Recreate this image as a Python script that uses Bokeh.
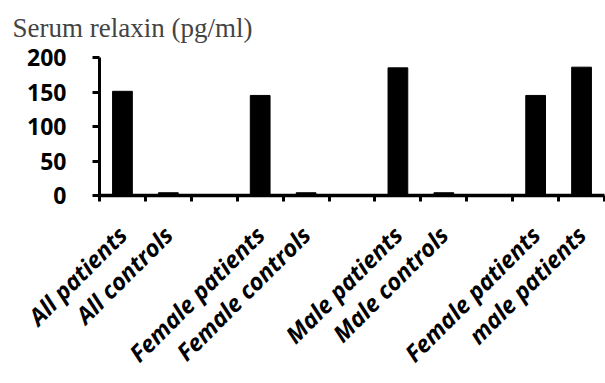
import math
from bokeh.plotting import figure
from bokeh.models import FixedTicker, LinearAxis, Range1d
from bokeh.embed import file_html
from bokeh.resources import INLINE

labels = ["All patients", "All controls", "", "Female patients", "Female controls", "",
          "Male patients", "Male controls", "", "Female patients", "male patients"]
values = [151, 4, 0, 145, 4, 0, 185, 4, 0, 145, 186]
yticks = [0, 50, 100, 150, 200]
title_text = "Serum relaxin  (pg/ml)"

n = len(labels)
centers = [i + 0.5 for i in range(n)]
bx = [centers[i] for i in range(n) if labels[i]]
bt = [values[i] for i in range(n) if labels[i]]

p = figure(width=605, height=383, x_range=Range1d(0, n), y_range=Range1d(0, 200),
           output_backend="svg", toolbar_location=None, x_axis_location=None,
           min_border_left=99, min_border_right=1, min_border_top=57, min_border_bottom=188)
p.outline_line_color = None
p.grid.visible = False
p.background_fill_color = "white"
p.border_fill_color = "white"

p.vbar(x=bx, top=bt, width=0.43, color="black")

xa = LinearAxis(ticker=FixedTicker(ticks=bx, minor_ticks=list(range(n + 1))),
                major_label_overrides={centers[i]: labels[i] for i in range(n) if labels[i]},
                major_label_orientation=math.pi / 4,
                axis_line_color="black", axis_line_width=3.5,
                major_tick_line_color=None,
                minor_tick_line_color="black", minor_tick_line_width=3,
                minor_tick_out=6, minor_tick_in=0,
                major_label_standoff=29,
                major_label_text_font="Open Sans", major_label_text_font_style="bold italic",
                major_label_text_font_size="23.5px", major_label_text_color="black")
p.add_layout(xa, "below")

ya = p.yaxis[0]
ya.ticker = FixedTicker(ticks=yticks)
ya.axis_line_width = 3
ya.axis_line_color = "black"
ya.major_tick_line_width = 3
ya.major_tick_out = 7
ya.major_tick_in = 0
ya.minor_tick_line_color = None
ya.major_label_standoff = 26
ya.major_label_text_font = "Open Sans"
ya.major_label_text_font_style = "bold"
ya.major_label_text_font_size = "23px"
ya.major_label_text_color = "black"

p.title.text = title_text
p.title.text_font = "Liberation Serif"
p.title.text_font_style = "normal"
p.title.text_font_size = "27px"
p.title.align = "left"
p.title.vertical_align = "top"
p.title.offset = -87
p.title.standoff = 25

open("out.html", "w").write(file_html(p, INLINE))
